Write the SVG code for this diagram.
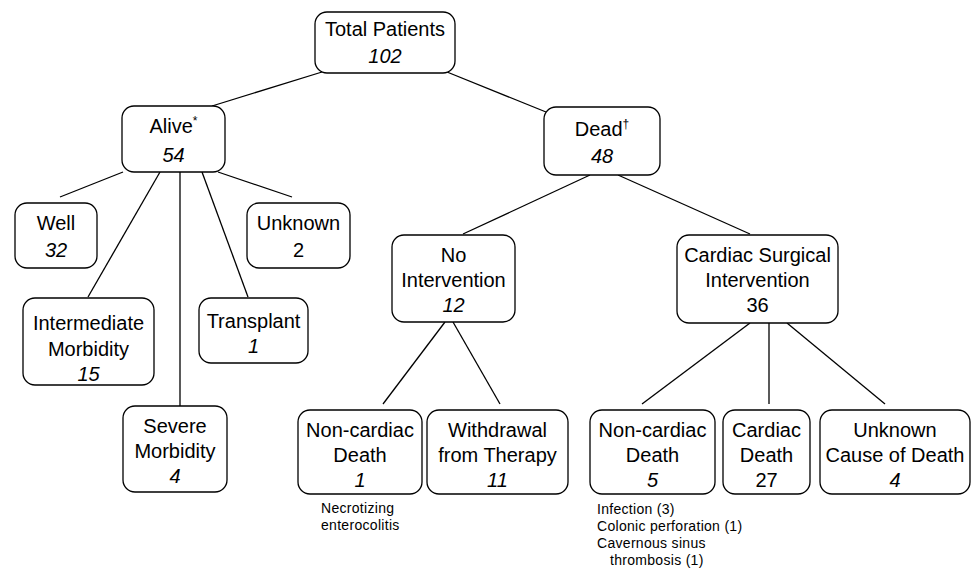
<svg xmlns="http://www.w3.org/2000/svg" width="977" height="571" viewBox="0 0 977 571">
<style>
.box{fill:#fff;stroke:#000;stroke-width:1.3}
.t{font-family:"Liberation Sans",Arial,sans-serif;font-size:20px;fill:#000;text-anchor:middle}
.i{font-style:italic}
.sup{font-size:12px}
.note{font-family:"Liberation Sans",Arial,sans-serif;font-size:14px;fill:#000;letter-spacing:0.3px}
#connectors line{stroke:#000;stroke-width:1.3}
</style>
<rect width="977" height="571" fill="#fff"/>
<g id="connectors">
<line x1="322" y1="72" x2="212" y2="106"/>
<line x1="447" y1="72" x2="546" y2="112"/>
<line x1="123" y1="172" x2="60" y2="197"/>
<line x1="160" y1="172" x2="88" y2="297"/>
<line x1="180" y1="172" x2="180" y2="406"/>
<line x1="202" y1="172" x2="248" y2="297"/>
<line x1="218" y1="172" x2="292" y2="197"/>
<line x1="590" y1="175" x2="463" y2="234"/>
<line x1="618" y1="175" x2="750" y2="234"/>
<line x1="445" y1="322" x2="383" y2="404"/>
<line x1="453" y1="322" x2="500" y2="404"/>
<line x1="750" y1="323" x2="642" y2="404"/>
<line x1="769" y1="323" x2="769" y2="404"/>
<line x1="787" y1="323" x2="885" y2="404"/>
</g>
<g id="total">
<rect class="box" x="315" y="12" width="140" height="61" rx="12"/>
<text class="t" x="385" y="36">Total Patients</text>
<text class="t i" x="385" y="63">102</text>
</g>
<g id="alive">
<rect class="box" x="122" y="106" width="103" height="66" rx="12"/>
<text class="t" x="173.5" y="133">Alive<tspan class="sup" dy="-8">*</tspan></text>
<text class="t i" x="173.5" y="162">54</text>
</g>
<g id="dead">
<rect class="box" x="544" y="107" width="116" height="68" rx="12"/>
<text class="t" x="602" y="136">Dead<tspan class="sup" dy="-8">†</tspan></text>
<text class="t i" x="602" y="163">48</text>
</g>
<g id="well">
<rect class="box" x="15" y="203" width="82" height="65" rx="12"/>
<text class="t" x="56" y="230">Well</text>
<text class="t i" x="56" y="257">32</text>
</g>
<g id="unknown">
<rect class="box" x="247" y="203" width="103" height="65" rx="12"/>
<text class="t" x="298.5" y="230">Unknown</text>
<text class="t" x="298.5" y="257">2</text>
</g>
<g id="intermediate">
<rect class="box" x="23" y="298" width="131" height="87" rx="12"/>
<text class="t" x="88.5" y="330">Intermediate</text>
<text class="t" x="88.5" y="356">Morbidity</text>
<text class="t i" x="88.5" y="381">15</text>
</g>
<g id="transplant">
<rect class="box" x="199" y="298" width="109" height="65" rx="12"/>
<text class="t" x="253.5" y="328">Transplant</text>
<text class="t i" x="253.5" y="353">1</text>
</g>
<g id="severe">
<rect class="box" x="123" y="406" width="104" height="86" rx="12"/>
<text class="t" x="175" y="433">Severe</text>
<text class="t" x="175" y="458">Morbidity</text>
<text class="t i" x="175" y="483">4</text>
</g>
<g id="nointervention">
<rect class="box" x="392" y="235" width="123" height="87" rx="12"/>
<text class="t" x="453.5" y="262">No</text>
<text class="t" x="453.5" y="287">Intervention</text>
<text class="t i" x="453.5" y="312">12</text>
</g>
<g id="cardiacsurgical">
<rect class="box" x="677" y="235" width="161" height="88" rx="12"/>
<text class="t" x="757.5" y="262">Cardiac Surgical</text>
<text class="t" x="757.5" y="287">Intervention</text>
<text class="t" x="757.5" y="312">36</text>
</g>
<g id="noncardiac1">
<rect class="box" x="298" y="410" width="124" height="84" rx="12"/>
<text class="t" x="360" y="437">Non-cardiac</text>
<text class="t" x="360" y="462">Death</text>
<text class="t i" x="360" y="487">1</text>
<text class="note" x="321" y="513">Necrotizing</text>
<text class="note" x="321" y="530">enterocolitis</text>
</g>
<g id="withdrawal">
<rect class="box" x="427" y="410" width="141" height="84" rx="12"/>
<text class="t" x="497.5" y="437">Withdrawal</text>
<text class="t" x="497.5" y="462">from Therapy</text>
<text class="t i" x="497.5" y="487">11</text>
</g>
<g id="noncardiac5">
<rect class="box" x="590" y="410" width="125" height="84" rx="12"/>
<text class="t" x="652.5" y="437">Non-cardiac</text>
<text class="t" x="652.5" y="462">Death</text>
<text class="t i" x="652.5" y="487">5</text>
<text class="note" x="597" y="514">Infection (3)</text>
<text class="note" x="597" y="531">Colonic perforation (1)</text>
<text class="note" x="597" y="548">Cavernous sinus</text>
<text class="note" x="610" y="565">thrombosis (1)</text>
</g>
<g id="cardiacdeath">
<rect class="box" x="723" y="410" width="87" height="84" rx="12"/>
<text class="t" x="766.5" y="437">Cardiac</text>
<text class="t" x="766.5" y="462">Death</text>
<text class="t" x="766.5" y="487">27</text>
</g>
<g id="unknowncause">
<rect class="box" x="820" y="410" width="150" height="84" rx="12"/>
<text class="t" x="895" y="437">Unknown</text>
<text class="t" x="895" y="462">Cause of Death</text>
<text class="t i" x="895" y="487">4</text>
</g>
</svg>
